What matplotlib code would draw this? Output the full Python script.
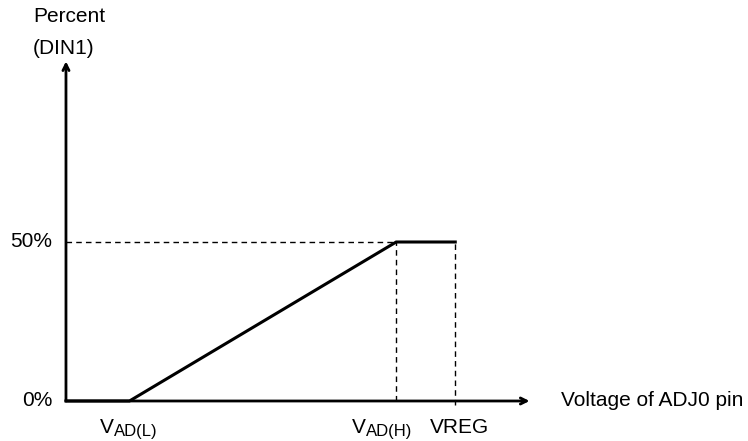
import matplotlib.pyplot as plt

plt.rcParams['font.family'] = ['Liberation Sans', 'DejaVu Sans']

# characteristic (arbitrary voltage units, percent)
vad_l = 1.0
vad_h = 5.2
vreg = 6.13
curve_x = [0, vad_l, vad_h, vreg]
curve_y = [0, 0, 50, 50]
y_ticks = [0, 50]
y_tick_labels = ["0%", "50%"]

fig = plt.figure(figsize=(7.48, 4.41), dpi=100)
ax = fig.add_axes([0, 0, 1, 1])
ax.set_xlim(-1.039, 10.74)
ax.set_ylim(-12.58, 126.1)
ax.axis("off")

# axes with arrows
ax.annotate("", xy=(7.3, 0), xytext=(0, 0),
            arrowprops=dict(arrowstyle="->", lw=2, color="black",
                            shrinkA=0, shrinkB=0, mutation_scale=11))
ax.annotate("", xy=(0, 106.8), xytext=(0, 0),
            arrowprops=dict(arrowstyle="->", lw=2, color="black",
                            shrinkA=0, shrinkB=0, mutation_scale=11))

# dashed guides
ax.plot([0, vad_h], [50, 50], ls=(0, (4, 3)), lw=1, color="black")
ax.plot([vad_h, vad_h], [0, 50], ls=(0, (4, 3)), lw=1, color="black")
ax.plot([vreg, vreg], [-1.2, 50], ls=(0, (4, 3)), lw=1, color="black")

# curve
ax.plot(curve_x, curve_y, lw=2.2, color="black", solid_joinstyle="miter")

# labels
for v, lab in zip(y_ticks, y_tick_labels):
    ax.text(-0.22, v, lab, ha="right", va="center", fontsize=15)

ax.text(-0.52, 121, "Percent", ha="left", va="center", fontsize=15)
ax.text(-0.52, 111, "(DIN1)", ha="left", va="center", fontsize=15)
ax.text(7.8, 0, "Voltage of ADJ0 pin", ha="left", va="center", fontsize=15)


def sub_label(x, sub):
    ax.text(x, -10.06, "V", ha="right", va="baseline", fontsize=15)
    ax.text(x, -11.0, sub, ha="left", va="baseline", fontsize=12)


sub_label(vad_l - 0.244, "AD(L)")
sub_label(vad_h - 0.476, "AD(H)")
ax.text(vreg + 0.067, -10.06, "VREG", ha="center", va="baseline", fontsize=15)

fig.savefig("out.png", dpi=100)
